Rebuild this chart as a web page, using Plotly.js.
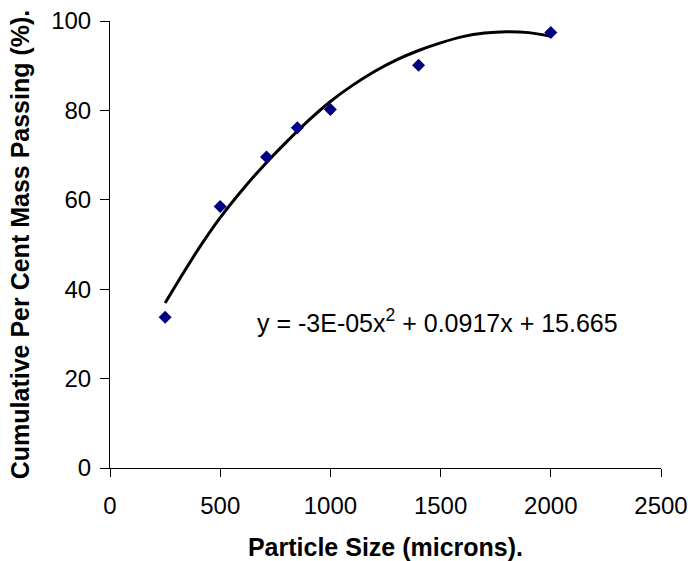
<!DOCTYPE html>
<html>
<head>
<meta charset="utf-8">
<script src="https://cdn.plot.ly/plotly-3.0.1.min.js"></script>
<style>
html,body{margin:0;padding:0;background:#fff;}
#chart{width:688px;height:561px;}
</style>
</head>
<body>
<div id="chart"></div>
<script>
// Measured data points
var particleSize = [250, 500, 710, 850, 1000, 1400, 2000];
var cumulativePassing = [33.7, 58.5, 69.6, 76.1, 80.2, 90.1, 97.4];

// Trendline
var trendX = [250, 300, 400, 500, 600, 700, 800, 900, 1000, 1100, 1200, 1300, 1400, 1500, 1600, 1700, 1800, 1900, 2000];
var trendY = [36.9, 41.0, 48.9, 56.0, 62.2, 67.8, 72.9, 77.7, 82.0, 85.6, 88.7, 91.3, 93.4, 95.1, 96.5, 97.3, 97.6, 97.4, 96.6];

var xTicks = [0, 500, 1000, 1500, 2000, 2500];
var yTicks = [0, 20, 40, 60, 80, 100];

var equationText = 'y = -3E-05x<sup>2</sup> + 0.0917x + 15.665';

var FONT = 'Liberation Sans, Arial, sans-serif';

var traces = [
  {
    x: trendX, y: trendY, type: 'scatter', mode: 'lines',
    line: {color: '#000000', width: 3, shape: 'spline', smoothing: 0.8},
    hoverinfo: 'skip', showlegend: false
  },
  {
    x: particleSize, y: cumulativePassing, type: 'scatter', mode: 'markers',
    marker: {symbol: 'diamond', size: 10, color: '#000080', line: {width: 0}},
    showlegend: false
  }
];

var layout = {
  width: 688, height: 561,
  margin: {l: 110, r: 27, t: 21, b: 93},
  paper_bgcolor: '#ffffff', plot_bgcolor: '#ffffff',
  font: {family: FONT, color: '#000000'},
  showlegend: false,
  xaxis: {
    range: [0, 2500], tickvals: xTicks, ticktext: xTicks.map(String),
    showgrid: false, zeroline: false, showline: true, linecolor: '#000000', linewidth: 1,
    ticks: 'outside', ticklen: 8, tickcolor: '#000000', tickwidth: 1,
    ticklabelstandoff: 8,
    tickfont: {family: FONT, size: 24, color: '#000000'},
    title: {text: 'Particle Size (microns).', font: {family: FONT, size: 25, color: '#000000', weight: 'bold'}, standoff: 23}
  },
  yaxis: {
    range: [0, 100], tickvals: yTicks, ticktext: yTicks.map(String),
    showgrid: false, zeroline: false, showline: true, linecolor: '#000000', linewidth: 1,
    ticks: 'outside', ticklen: 9, tickcolor: '#000000', tickwidth: 1,
    ticklabelstandoff: 4,
    tickfont: {family: FONT, size: 24, color: '#000000'},
    title: {text: 'Cumulative Per Cent Mass Passing (%).', font: {family: FONT, size: 25, color: '#000000', weight: 'bold'}, standoff: 14}
  },
  annotations: [{
    x: 1488, y: 32.8, xref: 'x', yref: 'y',
    text: equationText, showarrow: false,
    xanchor: 'center', yanchor: 'middle',
    font: {family: FONT, size: 25, color: '#000000'}
  }]
};

Plotly.newPlot('chart', traces, layout, {staticPlot: true, displayModeBar: false});
</script>
</body>
</html>
